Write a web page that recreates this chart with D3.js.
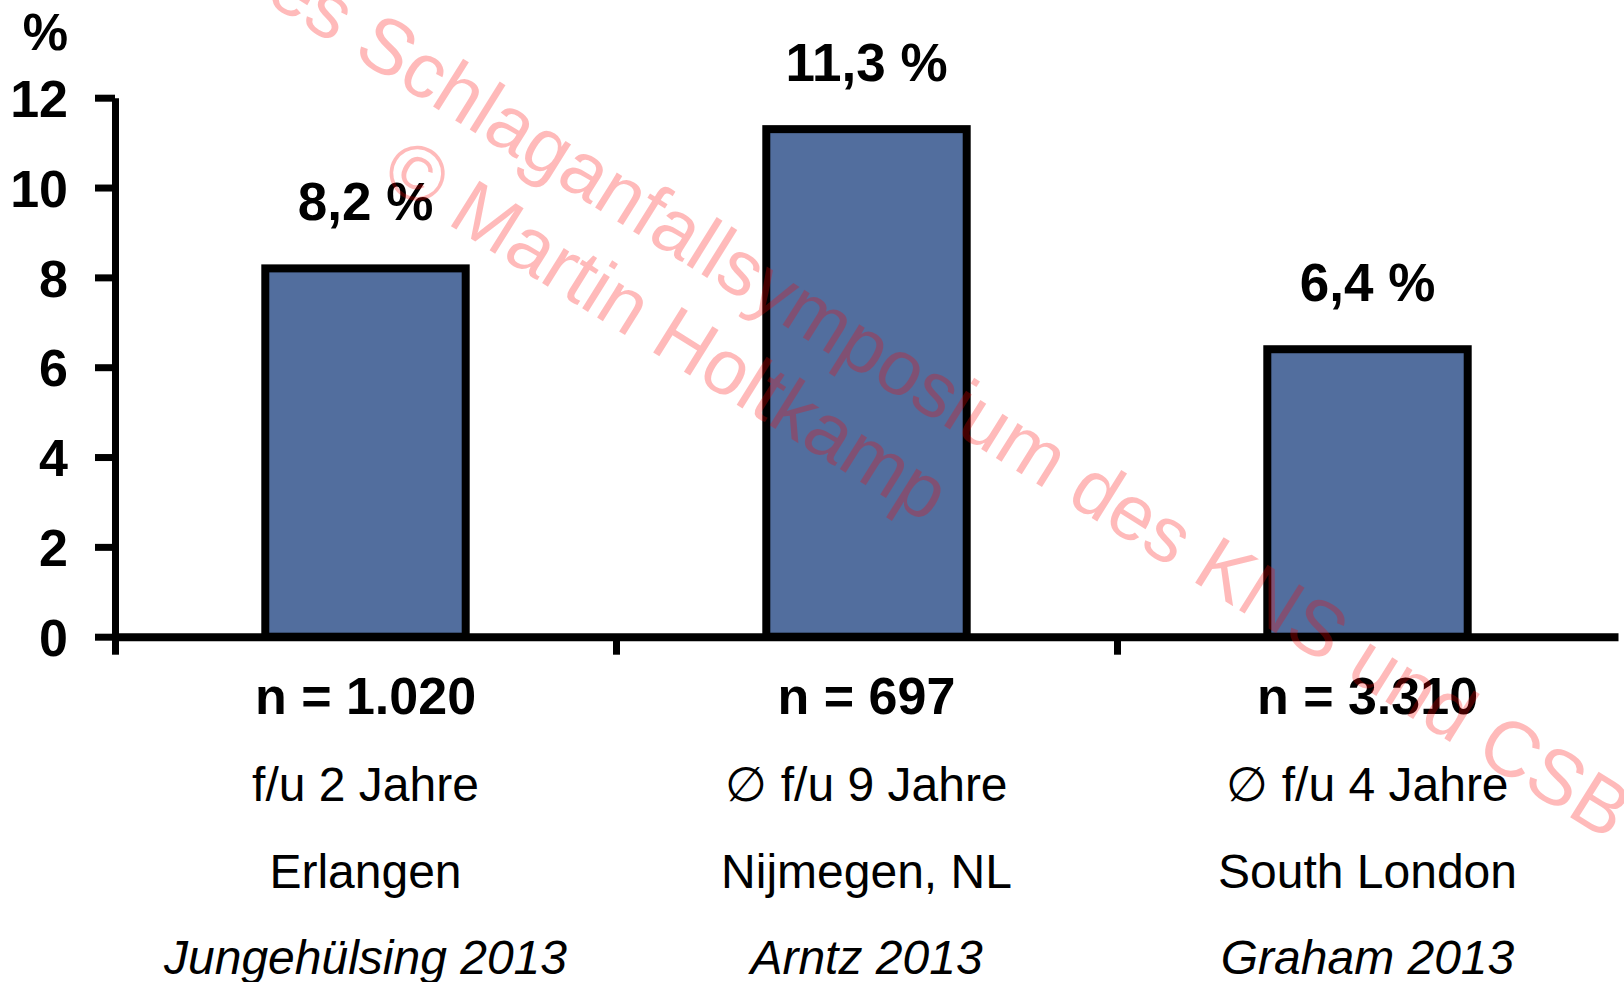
<!DOCTYPE html>
<html lang="de">
<head>
<meta charset="utf-8">
<title>Rezidivrate</title>
<script src="https://cdn.jsdelivr.net/npm/d3@7"></script>
<style>
  html, body { margin: 0; padding: 0; background: #fff; }
  svg { display: block; font-family: "Liberation Sans", Arial, sans-serif; }
  .bar { fill: #526e9e; stroke: #000; stroke-width: 8; }
  .axis path, .axis line { stroke: #000; }
  .watermark { fill: #ff0000; fill-opacity: 0.27; font-size: 78px; }
</style>
</head>
<body>
<div id="chart"></div>
<script>
// data
var categories = ["Erlangen", "Nijmegen, NL", "South London"];
var values = [8.2, 11.3, 6.4];
var valueLabels = ["8,2 %", "11,3 %", "6,4 %"];
var sampleSizes = ["n = 1.020", "n = 697", "n = 3.310"];
var followUp = ["f/u 2 Jahre", "\u2205 f/u 9 Jahre", "\u2205 f/u 4 Jahre"];
var studies = ["Jungehülsing 2013", "Arntz 2013", "Graham 2013"];
var yTicks = [0, 2, 4, 6, 8, 10, 12];

var W = 1624, H = 982;
var plotLeft = 115, plotRight = 1618, plotTop = 97.7, plotBase = 636.7;

var svg = d3.select("#chart").append("svg")
  .attr("width", W)
  .attr("height", H);

svg.append("rect").attr("width", W).attr("height", H).attr("fill", "#fff");

var x = d3.scaleBand().domain(categories).range([plotLeft, plotRight]).padding(0);
var xb = d3.scaleLinear().domain([0, categories.length]).range([plotLeft, plotRight]);
var y = d3.scaleLinear().domain([0, 12]).range([plotBase, plotTop]);

var barW = x.bandwidth() * 0.4;

// bars
svg.selectAll(".bar")
  .data(values)
  .enter()
  .append("rect")
  .attr("class", "bar")
  .attr("x", function(d, i) { return x(categories[i]) + (x.bandwidth() - barW) / 2; })
  .attr("y", function(d) { return y(d); })
  .attr("width", barW)
  .attr("height", function(d) { return y(0) - y(d); });

// value labels
svg.selectAll(".val")
  .data(values)
  .enter()
  .append("text")
  .attr("class", "val")
  .attr("x", function(d, i) { return x(categories[i]) + x.bandwidth() / 2; })
  .attr("y", function(d) { return y(d) - 48; })
  .attr("text-anchor", "middle")
  .attr("font-size", "53px")
  .attr("font-weight", "bold")
  .text(function(d, i) { return valueLabels[i]; });

// y axis
var yAxis = svg.append("g")
  .attr("class", "axis")
  .attr("transform", "translate(" + plotLeft + ",0)")
  .call(d3.axisLeft(y).tickValues(yTicks).tickSize(20).tickSizeOuter(0).tickPadding(27));
yAxis.select(".domain").attr("stroke-width", 7);
yAxis.selectAll(".tick line").attr("stroke-width", 7);
yAxis.selectAll(".tick text")
  .attr("fill", "#000")
  .attr("font-size", "52px")
  .attr("font-weight", "bold")
  .attr("font-family", "Liberation Sans, Arial, sans-serif")
  .attr("dy", "0.36em");

svg.append("text")
  .attr("x", 68)
  .attr("y", 50)
  .attr("text-anchor", "end")
  .attr("font-size", "51px")
  .attr("font-weight", "bold")
  .text("%");

// x axis
var xAxis = svg.append("g")
  .attr("class", "axis")
  .attr("transform", "translate(0," + plotBase + ")")
  .call(d3.axisBottom(xb).tickValues(d3.range(categories.length)).tickSize(18).tickSizeOuter(0).tickFormat(""));
xAxis.select(".domain").attr("stroke-width", 8);
xAxis.selectAll(".tick line").attr("stroke-width", 7);

// category labels
var rows = [
  { list: sampleSizes, y: 714, size: 52, weight: "bold", style: "normal" },
  { list: followUp, y: 801, size: 48, weight: "normal", style: "normal" },
  { list: categories, y: 888, size: 48, weight: "normal", style: "normal" },
  { list: studies, y: 974, size: 48, weight: "normal", style: "italic" }
];
rows.forEach(function(r) {
  svg.append("g").selectAll("text")
    .data(r.list)
    .enter()
    .append("text")
    .attr("x", function(d, i) { return x(categories[i]) + x.bandwidth() / 2; })
    .attr("y", r.y)
    .attr("text-anchor", "middle")
    .attr("font-size", r.size + "px")
    .attr("font-weight", r.weight)
    .attr("font-style", r.style)
    .text(function(d) { return d; });
});

// watermark
var wm = svg.append("g").attr("transform", "translate(333,44) rotate(32)");
var pre = wm.append("text").attr("class", "watermark").text("des ");
var preW = pre.node().getComputedTextLength();
pre.remove();
wm.append("text")
  .attr("class", "watermark")
  .attr("x", -preW)
  .attr("y", 0)
  .text("des Schlaganfallsymposium des KNS und CSB");
wm.append("text")
  .attr("class", "watermark")
  .attr("x", 111)
  .attr("y", 92)
  .text("\u00a9 Martin Holtkamp");
</script>
</body>
</html>
